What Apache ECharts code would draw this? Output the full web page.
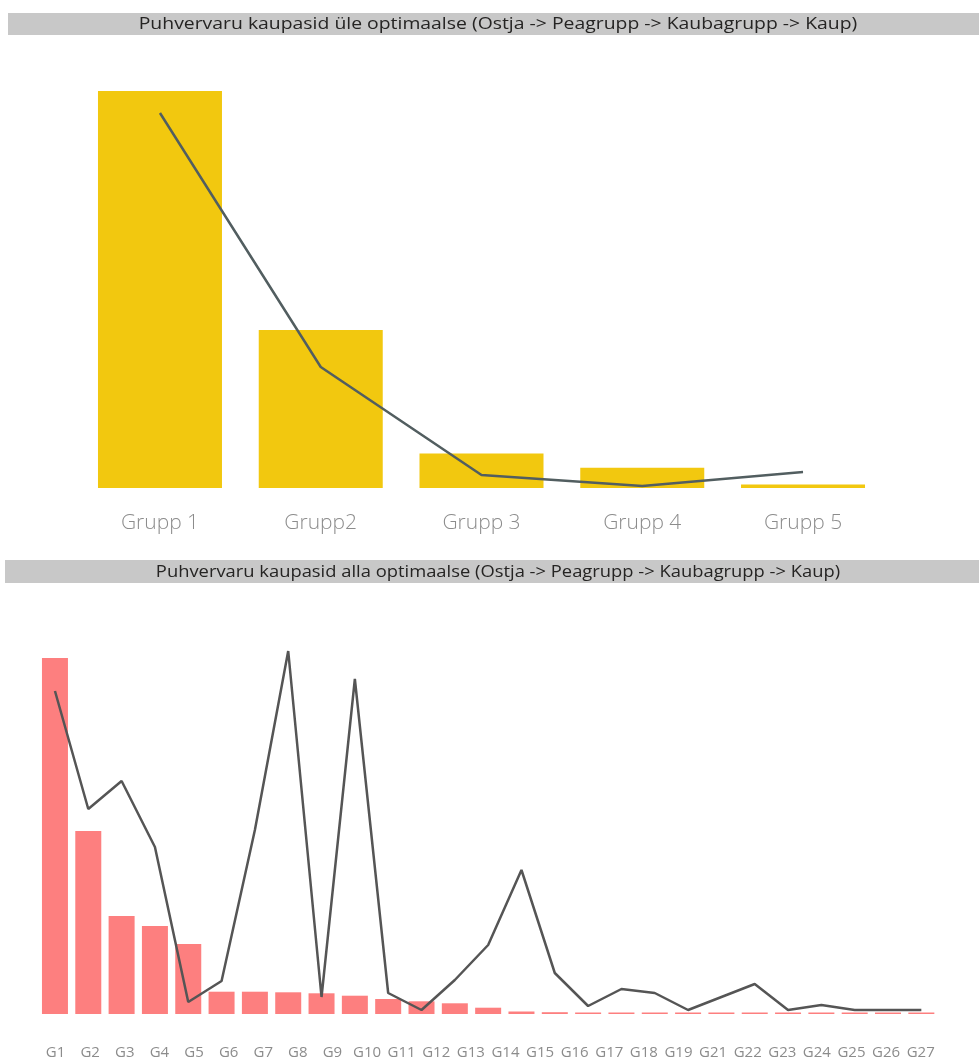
<!DOCTYPE html>
<html>
<head>
<meta charset="utf-8">
<title>Puhvervaru</title>
<script src="https://cdn.jsdelivr.net/npm/echarts@6/dist/echarts.min.js"></script>
<style>
  html, body { margin: 0; padding: 0; background: #fff; }
  #chart { width: 979px; height: 1064px; }
</style>
</head>
<body>
<div id="chart"></div>
<script>
// Upper chart: stock over the optimum, per group
const overTitle = 'Puhvervaru kaupasid üle optimaalse (Ostja -> Peagrupp -> Kaubagrupp -> Kaup)';
const overGroups = ['Grupp 1', 'Grupp2', 'Grupp 3', 'Grupp 4', 'Grupp 5'];
const overValue = [39.7, 15.8, 3.45, 2.03, 0.35];   // bars
const overCount = [375, 121, 13, 2, 16];            // line

// Lower chart: stock under the optimum, per group
const underTitle = 'Puhvervaru kaupasid alla optimaalse (Ostja -> Peagrupp -> Kaubagrupp -> Kaup)';
const underGroups = ['G1','G2','G3','G4','G5','G6','G7','G8','G9','G10','G11','G12','G13','G14',
  'G15','G16','G17','G18','G19','G20','G21','G22','G23','G24','G25','G26','G27'];
const underTickLabels = ['G1','G2','G3','G4','G5','G6','G7','G8','G9','G10','G11','G12','G13','G14',
  'G15','G16','G17','G18','G19','G21','G22','G23','G24','G25','G26','G27'];
const underValue = [35.6, 18.3, 9.8, 8.8, 7.0, 2.23, 2.23, 2.17, 2.07, 1.83, 1.5, 1.27, 1.07, 0.63,
  0.25, 0.18, 0.15, 0.15, 0.15, 0.15, 0.15, 0.15, 0.15, 0.15, 0.15, 0.15, 0.15];
const underCount = [323, 205, 233, 167, 12, 33, 184, 363, 17, 335, 21, 4, 34, 69,
  144, 41, 8, 25, 21, 4, 17, 30, 4, 9, 4, 4, 4];

const FONT = "'Open Sans', 'Noto Sans', sans-serif";

// Grey header strip with a centred caption, widened a little horizontally
function titleBar(x, y, w, h, text, stretch) {
  return {
    type: 'group',
    children: [
      { type: 'rect', shape: { x: x, y: y, width: w, height: h }, style: { fill: '#C8C8C8' }, silent: true },
      { type: 'text', x: 498, y: y + h / 2 + 0.5, scaleX: stretch,
        style: { text: text, fill: '#252423', font: '17px ' + FONT, align: 'center', verticalAlign: 'middle' },
        silent: true }
    ]
  };
}

const chart = echarts.init(document.getElementById('chart'), null, { renderer: 'canvas' });

chart.setOption({
  animation: false,
  backgroundColor: '#ffffff',
  textStyle: { fontFamily: FONT },
  graphic: [
    titleBar(8, 13, 971, 22, overTitle, 1.14),
    titleBar(5, 560, 974, 23, underTitle, 1.08)
  ],
  grid: [
    { left: 79.6, width: 803.8, top: 91, height: 397 },
    { left: 38.3, width: 899.7, top: 650, height: 364 }
  ],
  xAxis: [
    {
      type: 'category', gridIndex: 0, data: overGroups,
      axisLine: { show: false }, axisTick: { show: false },
      axisLabel: { color: '#8C8C8C', fontSize: 21, fontWeight: 300, margin: 25, fontFamily: FONT }
    },
    {
      type: 'category', gridIndex: 1, data: underGroups,
      axisLine: { show: false }, axisTick: { show: false }, axisLabel: { show: false }
    },
    {
      type: 'category', gridIndex: 1, data: underTickLabels, position: 'bottom',
      axisLine: { show: false }, axisTick: { show: false },
      axisLabel: { color: '#8C8C8C', fontSize: 15, margin: 31, interval: 0, fontFamily: FONT }
    }
  ],
  yAxis: [
    { type: 'value', gridIndex: 0, min: 0, max: 39.7, show: false },
    { type: 'value', gridIndex: 0, min: 0, max: 397, show: false },
    { type: 'value', gridIndex: 1, min: 0, max: 36.4, show: false },
    { type: 'value', gridIndex: 1, min: 0, max: 364, show: false }
  ],
  series: [
    {
      name: 'Väärtus', type: 'bar', xAxisIndex: 0, yAxisIndex: 0,
      data: overValue, barWidth: 124,
      itemStyle: { color: '#F2C80F' }
    },
    {
      name: 'Kaupu', type: 'line', xAxisIndex: 0, yAxisIndex: 1,
      data: overCount, symbol: 'none',
      lineStyle: { color: '#525E60', width: 2.5 }
    },
    {
      name: 'Väärtus', type: 'bar', xAxisIndex: 1, yAxisIndex: 2,
      data: underValue, barWidth: 26,
      itemStyle: { color: '#FD7F7F' }
    },
    {
      name: 'Kaupu', type: 'line', xAxisIndex: 1, yAxisIndex: 3,
      data: underCount, symbol: 'none',
      lineStyle: { color: '#555555', width: 2.5 }
    }
  ]
});
</script>
</body>
</html>
